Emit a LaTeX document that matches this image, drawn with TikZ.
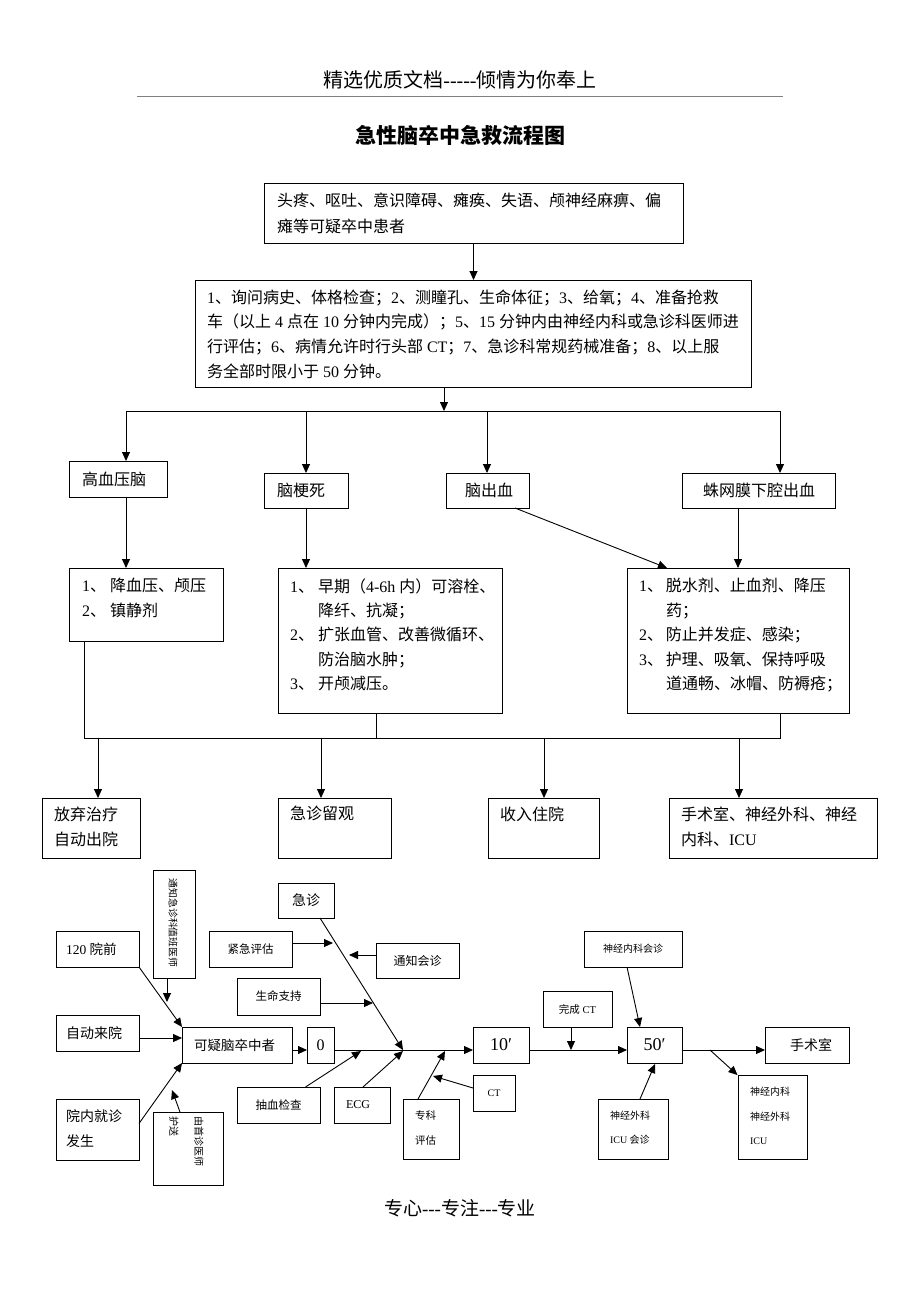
\documentclass[tikz,border=0pt]{standalone}
\usepackage{fontspec}
\setmainfont{Liberation Serif}
\newfontfamily\cjkf{Noto Sans CJK SC}
\newfontfamily\latf{Liberation Serif}
\usetikzlibrary{arrows.meta,calc}
\XeTeXinterchartokenstate=1
\chardef\CJKcls=7
\newcount\cjkc
\cjkc="3000
\loop
  \XeTeXcharclass\cjkc=\CJKcls
  \ifnum\cjkc<"9FFF \advance\cjkc 1
\repeat
\cjkc="FF00
\loop
  \XeTeXcharclass\cjkc=\CJKcls
  \ifnum\cjkc<"FFEF \advance\cjkc 1
\repeat
\XeTeXinterchartoks 0 \CJKcls = {\cjkf}
\XeTeXinterchartoks 4095 \CJKcls = {\cjkf}
\XeTeXinterchartoks \CJKcls 0 = {\latf}
\XeTeXinterchartoks \CJKcls 4095 = {\latf}
\newcommand\fs[2]{\fontsize{#1}{#2}\selectfont}
\tikzset{
  boxs/.style={draw, line width=1pt, inner sep=0pt, outer sep=0pt},
  txt/.style={inner sep=0pt, outer sep=0pt, align=left},
  arr/.style={line width=0.9pt, -{Triangle[length=9pt,width=8pt]}},
  ln/.style={line width=0.9pt},
}
% box by corners, empty
\newcommand\bx[5]{\node[boxs,minimum width={(#4-#2)*1pt},minimum height={(#5-#3)*1pt}] (#1) at ({(#2+#4)/2},{(#3+#5)/2}) {};}
% box by corners, centred text
\newcommand\bxc[7][]{\node[boxs,#1,minimum width={(#5-#3)*1pt},minimum height={(#6-#4)*1pt}] (#2) at ({(#3+#5)/2},{(#4+#6)/2}) {#7};}
\begin{document}
\begin{tikzpicture}[x=1pt,y=-1pt]
\useasboundingbox (0,0) rectangle (920,1302);

% header / title / footer
\node[font=\fs{20}{20}] (hdr) at (460,80) {精选优质文档-----倾情为你奉上};
\draw[line width=0.8pt, gray] (137,96) -- (783,96);
\node[font=\fs{21}{21}\bfseries] (title) at (460,135) {急性脑卒中急救流程图};
\node[font=\fs{19}{19}] (ftr) at (460,1208) {专心---专注---专业};

% ---------- upper flow chart ----------
\bx{b1}{264}{183}{683}{243}
\node[txt,font=\fs{16}{26},anchor=north west] (b1t) at (277,192.5)
  {头疼、呕吐、意识障碍、瘫痪、失语、颅神经麻痹、偏\\瘫等可疑卒中患者};
\bx{b2}{195}{280}{751}{387}
\node[txt,font=\fs{16}{24.7},anchor=north west] (b2t) at (207,289.5)
  {1、询问病史、体格检查；2、测瞳孔、生命体征；3、给氧；4、准备抢救\\
   车（以上 4 点在 10 分钟内完成）；5、15 分钟内由神经内科或急诊科医师进\\
   行评估；6、病情允许时行头部 CT；7、急诊科常规药械准备；8、以上服\\
   务全部时限小于 50 分钟。};
\draw[arr] (b1.south) -- (b2.north -| b1.south);

\bx{g1}{69}{461}{167}{497}
\node[txt,font=\fs{16}{16},anchor=west] (g1t) at (82,479) {高血压脑};
\bx{g2}{264}{473}{348}{508}
\node[txt,font=\fs{16}{16},anchor=west] (g2t) at (277,490.5) {脑梗死};
\bx{g3}{446}{473}{529}{508}
\node[txt,font=\fs{16}{16},anchor=west] (g3t) at (465,490.5) {脑出血};
\bx{g4}{682}{473}{835}{508}
\node[txt,font=\fs{16}{16},anchor=west] (g4t) at (703,490.5) {蛛网膜下腔出血};

\coordinate (j0) at (444,411);
\coordinate (h1) at (126,411);
\coordinate (h2) at (306,411);
\coordinate (h3) at (487,411);
\coordinate (h4) at (780,411);
\draw[arr] (b2.south -| j0) -- (j0);
\draw[ln] (h1) -- (h4);
\draw[arr] (h1) -- (h1 |- g1.north);
\draw[arr] (h2) -- (h2 |- g2.north);
\draw[arr] (h3) -- (h3 |- g3.north);
\draw[arr] (h4) -- (h4 |- g4.north);

\bx{a1}{69}{568}{223}{641}
\node[txt,font=\fs{16}{25},anchor=north west] (a1t) at (82,578.5)
  {\makebox[28pt][l]{1、}降血压、颅压\\\makebox[28pt][l]{2、}镇静剂};
\bx{a2}{278}{568}{502}{713}
\node[txt,font=\fs{16}{24.3},anchor=north west] (a2t) at (290,578.5)
  {\makebox[28pt][l]{1、}早期（4-6h 内）可溶栓、\\
   \hspace*{28pt}降纤、抗凝；\\
   \makebox[28pt][l]{2、}扩张血管、改善微循环、\\
   \hspace*{28pt}防治脑水肿；\\
   \makebox[28pt][l]{3、}开颅减压。};
\bx{a3}{627}{568}{849}{713}
\node[txt,font=\fs{16}{24.5},anchor=north west] (a3t) at (639,578.5)
  {\makebox[27pt][l]{1、}脱水剂、止血剂、降压\\
   \hspace*{27pt}药；\\
   \makebox[27pt][l]{2、}防止并发症、感染；\\
   \makebox[27pt][l]{3、}护理、吸氧、保持呼吸\\
   \hspace*{27pt}道通畅、冰帽、防褥疮；};

\draw[arr] (g1.south -| h1) -- (a1.north -| h1);
\draw[arr] (g2.south -| h2) -- (a2.north -| h2);
\coordinate (g3o) at (515,508);
\coordinate (a3i) at (667,568);
\draw[arr] (g3o) -- (a3i);
\coordinate (g4o) at (738,508);
\draw[arr] (g4o) -- (a3.north -| g4o);

% collector
\coordinate (c1) at (84,738);
\coordinate (c2) at (780,738);
\coordinate (c3) at (376,738);
\draw[ln] (a1.south -| c1) -- (c1) -- (c2) -- (a3.south -| c2);
\draw[ln] (a2.south -| c3) -- (c3);

\bx{e1}{42}{798}{140}{858}
\node[txt,font=\fs{16}{25},anchor=north west] (e1t) at (54,806.5) {放弃治疗\\自动出院};
\bx{e2}{278}{798}{391}{858}
\node[txt,font=\fs{16}{25},anchor=north west] (e2t) at (290,806.5) {急诊留观};
\bx{e3}{488}{798}{599}{858}
\node[txt,font=\fs{16}{25},anchor=north west] (e3t) at (500,806.5) {收入住院};
\bx{e4}{669}{798}{877}{858}
\node[txt,font=\fs{16}{25},anchor=north west] (e4t) at (681,806.5) {手术室、神经外科、神经\\内科、ICU};

\coordinate (d1) at (98,738);
\coordinate (d2) at (321,738);
\coordinate (d3) at (544,738);
\coordinate (d4) at (739,738);
\draw[arr] (d1) -- (d1 |- e1.north);
\draw[arr] (d2) -- (d2 |- e2.north);
\draw[arr] (d3) -- (d3 |- e3.north);
\draw[arr] (d4) -- (d4 |- e4.north);

% ---------- lower fishbone ----------
\bx{tz}{153}{870}{195}{978}
\node[txt,font=\fs{9.8}{10},rotate=-90] (tzt) at (173,923) {通知急诊科值班医师};
\bx{p120}{56}{931}{139}{967}
\node[txt,font=\fs{13.5}{14},anchor=west] (p120t) at (66,949) {120 院前};
\bx{zd}{56}{1015}{139}{1051}
\node[txt,font=\fs{14}{14},anchor=west] (zdt) at (66,1033) {自动来院};
\bx{yn}{56}{1099}{139}{1160}
\node[txt,font=\fs{14}{25},anchor=north west] (ynt) at (66,1109.5) {院内就诊\\发生};
\bx{ky}{182}{1027}{292}{1063}
\node[txt,font=\fs{13.5}{14},anchor=west] (kyt) at (194,1045) {可疑脑卒中者};
\bxc[font=\fs{16}{16}]{z0}{307}{1027}{334}{1063}{0}
\bx{ys}{153}{1112}{223}{1185}
\node[txt,font=\fs{10}{25},rotate=-90,anchor=north west] (yst) at (203.5,1116) {由首诊医师\\护送};

\bxc[font=\fs{14}{14}]{jz}{278}{883}{334}{918}{急诊}
\bxc[font=\fs{11.5}{12}]{jj}{209}{931}{292}{967}{紧急评估}
\bxc[font=\fs{11.5}{12}]{sm}{237}{978}{320}{1015}{生命支持}
\bxc[font=\fs{12}{12}]{tzh}{376}{943}{459}{978}{通知会诊}
\bxc[font=\fs{11.5}{12}]{cx}{237}{1087}{320}{1123}{抽血检查}
\bx{ecg}{334}{1087}{390}{1123}
\node[txt,font=\fs{12}{12},anchor=west] (ecgt) at (346,1105) {ECG};
\bxc[font=\fs{18}{18}]{t10}{473}{1027}{529}{1063}{10′}
\bx{zk}{403}{1099}{459}{1159}
\node[txt,font=\fs{10.5}{25},anchor=north west] (zkt) at (415,1111) {专科\\评估};
\bxc[font=\fs{10}{10}]{ct}{473}{1075}{515}{1111}{CT}
\bxc[font=\fs{10.5}{11}]{wc}{543}{991}{612}{1027}{完成 CT}
\bxc[font=\fs{10}{10}]{nk}{584}{931}{682}{967}{神经内科会诊}
\bxc[font=\fs{18}{18}]{t50}{627}{1027}{682}{1063}{50′}
\bxc[font=\fs{14}{14}]{ss}{765}{1027}{849}{1063}{\hspace*{8pt}手术室}
\bx{nw}{598}{1099}{668}{1159}
\node[txt,font=\fs{10}{24},anchor=north west] (nwt) at (610,1111.5) {神经外科\\ICU 会诊};
\bx{nn}{738}{1075}{807}{1159}
\node[txt,font=\fs{10}{24.5},anchor=north west] (nnt) at (750,1087.5) {神经内科\\神经外科\\ICU};

% fishbone connectors
\coordinate (tzE) at (167,1002);
\draw[arr] (tz.south -| tzE) -- (tzE);
\draw[arr] (p120.south east) -- (ky.north west);
\draw[arr] ([yshift=-5pt]zd.east) -- ([yshift=-5pt]zd.east -| ky.west);
\draw[arr] ([yshift=6pt]yn.east) -- (ky.south west);
\coordinate (ysE) at (172,1090);
\draw[arr] ([xshift=-8pt]ys.north) -- (ysE);
\coordinate (m1) at (292,1050);
\draw[arr] (ky.east |- m1) -- (z0.west |- m1);
\draw[arr] (z0.east |- m1) -- (t10.west |- m1);
\draw[arr] (t10.east |- m1) -- (t50.west |- m1);
\draw[arr] (t50.east |- m1) -- (ss.west |- m1);

\coordinate (jzE) at (403,1050);
\draw[arr] ([xshift=14pt]jz.south) -- (jzE);
\coordinate (jjE) at (333,943);
\draw[arr] (jj.east |- jjE) -- (jjE);
\coordinate (tzhE) at (349,955);
\draw[arr] (tzh.west |- tzhE) -- (tzhE);
\coordinate (smE) at (373,1003);
\draw[arr] (sm.east |- smE) -- (smE);
\coordinate (cxE) at (361,1051);
\draw[arr] ([xshift=27pt]cx.north) -- (cxE);
\coordinate (ecgE) at (403,1051);
\draw[arr] ([xshift=1pt]ecg.north) -- (ecgE);
\coordinate (zkE) at (445,1051);
\draw[arr] ([xshift=-13pt]zk.north) -- (zkE);
\coordinate (ctE) at (433,1076);
\draw[arr] ([yshift=5pt]ct.west) -- (ctE);
\coordinate (wcE) at (571,1050);
\draw[arr] (wc.south -| wcE) -- (wcE);
\coordinate (nkE) at (640,1027);
\draw[arr] ([xshift=-6pt]nk.south) -- (nkE);
\coordinate (nwE) at (655,1064);
\draw[arr] ([xshift=7pt]nw.north) -- (nwE);
\coordinate (t50o) at (710,1050);
\draw[arr] (t50o) -- ([xshift=-0.5pt]nn.north west);
\end{tikzpicture}
\end{document}
